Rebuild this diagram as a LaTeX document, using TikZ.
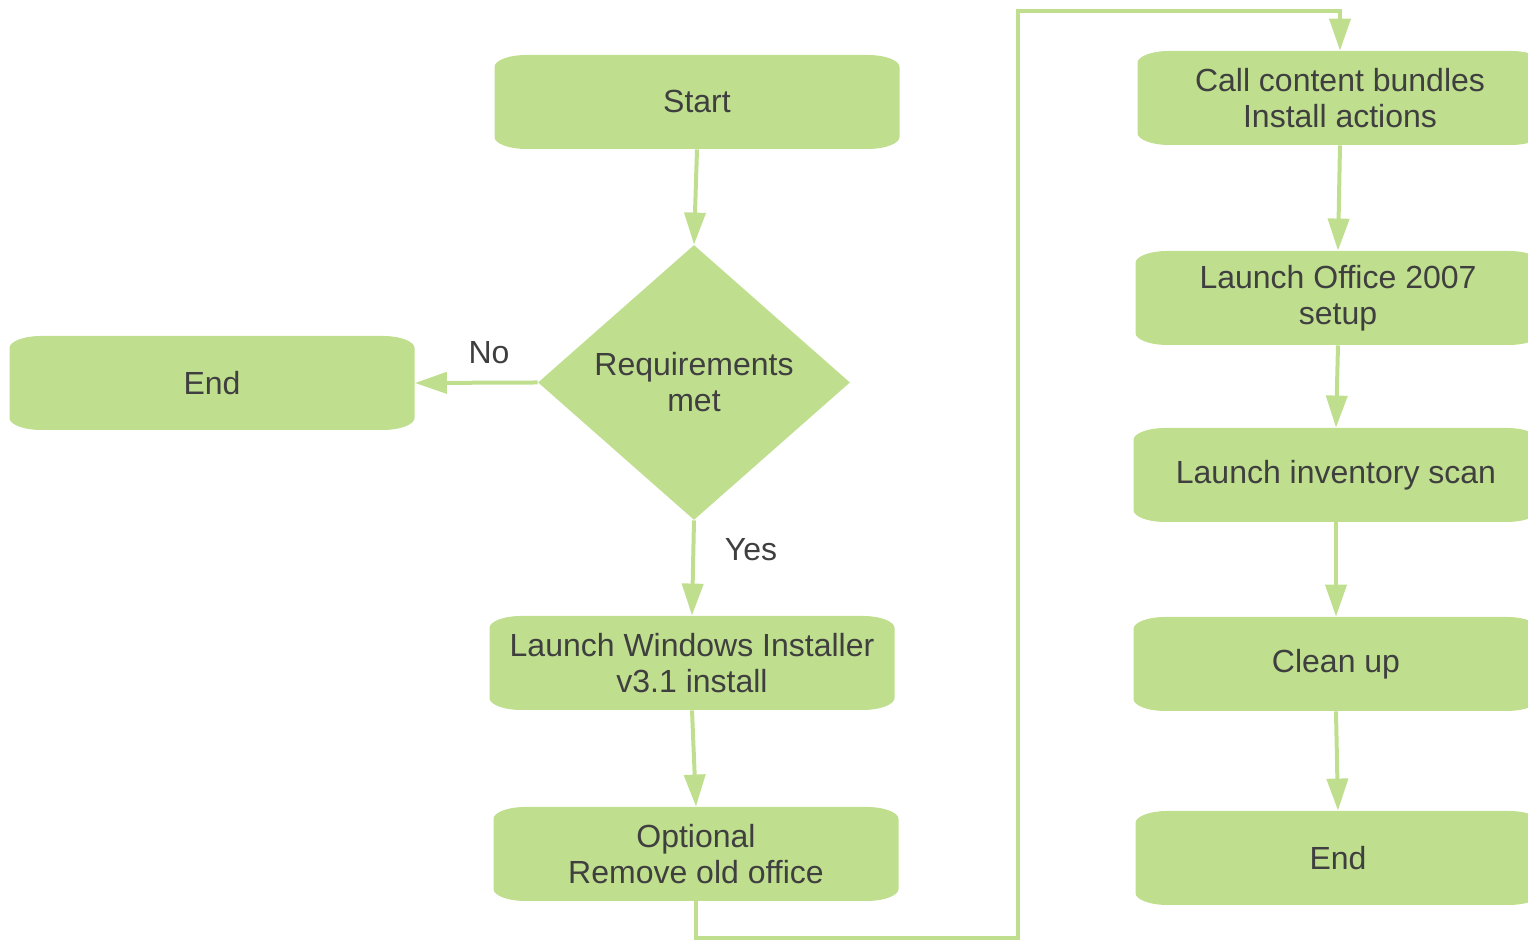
\documentclass[tikz,border=0pt]{standalone}
\usepackage{fontspec}
\setmainfont{Liberation Sans}
\usetikzlibrary{shapes.geometric,arrows.meta}
\definecolor{boxgreen}{HTML}{BFDE8E}
\definecolor{txt}{HTML}{3F3F3F}
\tikzset{
  stepbox/.style={rectangle, draw=none, minimum width=202.5pt, minimum height=47pt,
    inner sep=0pt, align=center, text=txt, font=\fontsize{16pt}{18pt}\selectfont,
    path picture={
      \fill[boxgreen] ([yshift=6pt]path picture bounding box.south west)
        -- ([yshift=-6pt]path picture bounding box.north west)
        arc[start angle=180, end angle=90, x radius=16pt, y radius=6pt]
        -- ([xshift=-16pt]path picture bounding box.north east)
        arc[start angle=90, end angle=0, x radius=16pt, y radius=6pt]
        -- ([yshift=6pt]path picture bounding box.south east)
        arc[start angle=0, end angle=-90, x radius=16pt, y radius=6pt]
        -- ([xshift=16pt]path picture bounding box.south west)
        arc[start angle=270, end angle=180, x radius=16pt, y radius=6pt]
        -- cycle;
    }},
  decision/.style={diamond, fill=boxgreen, draw=none, inner sep=0pt, aspect=1.13,
    minimum width=156pt, minimum height=137.5pt, align=center, text=txt,
    font=\fontsize{16pt}{18pt}\selectfont},
  conn/.style={draw=boxgreen, line width=2pt, -{Triangle[length=16pt, width=10.5pt]}},
  lbl/.style={text=txt, font=\fontsize{16pt}{18pt}\selectfont, inner sep=0pt}
}
\begin{document}
\begin{tikzpicture}[x=0.5pt, y=0.5pt]
\useasboundingbox (0,0) rectangle (1528,940);
\clip (0,0) rectangle (1528,940);
\node[stepbox] (start) at (697,838) {Start};
\node[decision] (dia) at (694,557.5) {Requirements\\met};
\node[stepbox] (endL) at (212,557) {End};
\node[stepbox] (lwi) at (692,277) {Launch Windows Installer\\v3.1 install};
\node[stepbox] (opt) at (696,86) {Optional\\Remove old office};
\node[stepbox] (call) at (1340,842) {Call content bundles\\Install actions};
\node[stepbox] (office) at (1338,642) {Launch Office 2007\\setup};
\node[stepbox] (inv) at (1336,465) {Launch inventory scan};
\node[stepbox] (clean) at (1336,276) {Clean up};
\node[stepbox] (endR) at (1338,82) {End};
\node[lbl] (no) at (489,587) {No};
\node[lbl] (yes) at (751,390) {Yes};
\coordinate (l1) at (1018,2);
\coordinate (l2) at (1018,929);
\draw[conn] (start.south) -- (dia.north);
\draw[conn] (dia.west) -- (endL.east);
\draw[conn] (dia.south) -- (lwi.north);
\draw[conn] (lwi.south) -- (opt.north);
\draw[conn] (opt.south) |- (l1) -- (l2) -| (call.north);
\draw[conn] (call.south) -- (office.north);
\draw[conn] (office.south) -- (inv.north);
\draw[conn] (inv.south) -- (clean.north);
\draw[conn] (clean.south) -- (endR.north);
\end{tikzpicture}
\end{document}
